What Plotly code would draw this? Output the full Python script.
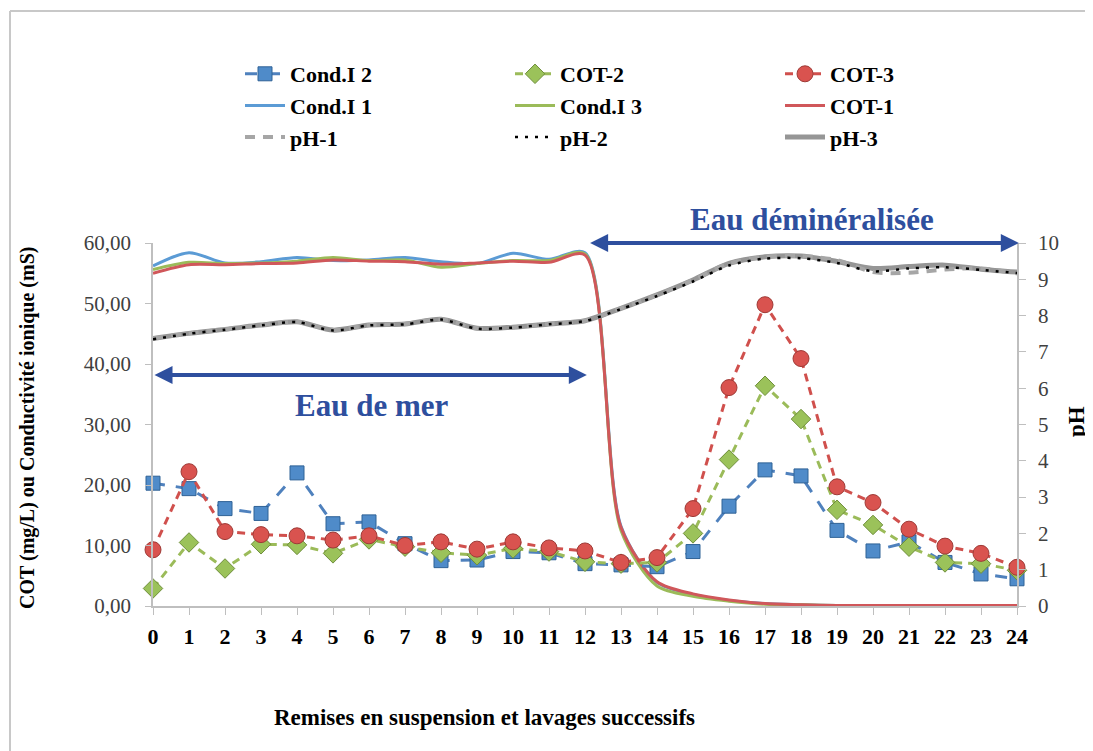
import plotly.graph_objects as go

x_vals = list(range(25))
x_labels = [str(i) for i in x_vals]

cond_i1 = [56.2, 58.4, 56.7, 56.9, 57.6, 57.1, 57.2, 57.6, 56.9, 56.6, 58.3, 57.3, 58.4,
           13.2, 3.9, 1.9, 0.9, 0.4, 0.2, 0.1, 0.1, 0.1, 0.1, 0.1, 0.1]
cond_i3 = [55.6, 56.8, 56.6, 56.7, 57.0, 57.6, 57.1, 57.2, 56.0, 56.6, 57.1, 57.1, 58.2,
           12.5, 3.3, 1.6, 0.8, 0.3, 0.2, 0.1, 0.1, 0.1, 0.1, 0.1, 0.1]
cot_1 = [55.0, 56.4, 56.4, 56.6, 56.7, 57.2, 57.0, 56.9, 56.5, 56.7, 57.0, 56.8, 58.0,
         13.0, 4.0, 2.0, 1.0, 0.4, 0.2, 0.1, 0.1, 0.1, 0.1, 0.1, 0.1]

cond_i2 = [20.3, 19.4, 16.1, 15.3, 22.0, 13.6, 13.9, 10.3, 7.5, 7.6, 9.0, 8.8, 7.0,
           6.8, 6.5, 9.0, 16.5, 22.5, 21.5, 12.5, 9.1, 10.6, 7.2, 5.3, 4.5]
cot_2 = [2.9, 10.5, 6.2, 10.2, 10.1, 8.7, 11.0, 9.8, 8.8, 8.4, 9.5, 9.0, 7.3,
         7.0, 7.2, 12.0, 24.2, 36.4, 30.9, 15.9, 13.4, 9.8, 7.2, 7.0, 5.9]
cot_3 = [9.3, 22.2, 12.3, 11.8, 11.6, 10.9, 11.6, 10.0, 10.6, 9.4, 10.6, 9.6, 9.1,
         7.2, 8.0, 16.1, 36.1, 49.8, 40.9, 19.7, 17.1, 12.7, 9.9, 8.7, 6.4]

ph_1 = [7.37, 7.51, 7.62, 7.74, 7.83, 7.60, 7.74, 7.77, 7.90, 7.65, 7.68, 7.77, 7.86,
        8.20, 8.57, 8.98, 9.44, 9.62, 9.64, 9.53, 9.20, 9.18, 9.27, 9.30, 9.16]
ph_2 = [7.35, 7.50, 7.61, 7.73, 7.82, 7.59, 7.73, 7.76, 7.89, 7.64, 7.67, 7.76, 7.85,
        8.18, 8.54, 8.94, 9.38, 9.57, 9.58, 9.45, 9.22, 9.30, 9.33, 9.26, 9.17]
ph_3 = [7.37, 7.51, 7.62, 7.74, 7.83, 7.60, 7.74, 7.77, 7.90, 7.65, 7.68, 7.77, 7.86,
        8.20, 8.57, 8.98, 9.44, 9.62, 9.64, 9.49, 9.30, 9.35, 9.39, 9.28, 9.20]

left_ticks = [0, 10, 20, 30, 40, 50, 60]
right_ticks = list(range(11))

SERIF = "Liberation Serif"
BLUE = "#4F81BD"
GREEN = "#9BBB59"
ARROW = "#2E4F9E"

# window-pixel helpers (plot area spans x 153..1017, y 243..606 in the window)
def px_x(p):
    return (p - 153) / 864

def px_y(p):
    return (606 - p) / 363

fig = go.Figure()

fig.add_trace(go.Scatter(x=x_vals, y=cond_i1, name="Cond.I 1", mode="lines",
                         line=dict(color="#5B9BD5", width=3, shape="spline", smoothing=0.8),
                         legendrank=4, cliponaxis=False))
fig.add_trace(go.Scatter(x=x_vals, y=cond_i3, name="Cond.I 3", mode="lines",
                         line=dict(color=GREEN, width=3, shape="spline", smoothing=0.8),
                         legendrank=5, cliponaxis=False))
fig.add_trace(go.Scatter(x=x_vals, y=cot_1, name="COT-1", mode="lines",
                         line=dict(color="#D0575A", width=3, shape="spline", smoothing=0.8),
                         legendrank=6, cliponaxis=False))

fig.add_trace(go.Scatter(x=x_vals, y=cond_i2, name="Cond.I 2", mode="lines+markers",
                         line=dict(color=BLUE, width=3, dash="12px,11px"),
                         marker=dict(symbol="square", size=14, color="#4F8BC9",
                                     line=dict(color="#2F6296", width=1)),
                         legendrank=1, cliponaxis=False))
fig.add_trace(go.Scatter(x=x_vals, y=cot_2, name="COT-2", mode="lines+markers",
                         line=dict(color=GREEN, width=3, dash="8px,6px"),
                         marker=dict(symbol="diamond", size=15, color="#9BC25A",
                                     line=dict(color="#6E8E3A", width=1)),
                         legendrank=2, cliponaxis=False))
fig.add_trace(go.Scatter(x=x_vals, y=cot_3, name="COT-3", mode="lines+markers",
                         line=dict(color="#D0504D", width=3, dash="8px,6px"),
                         marker=dict(symbol="circle", size=16, color="#D9534F",
                                     line=dict(color="#9E3A36", width=1)),
                         legendrank=3, cliponaxis=False))

fig.add_trace(go.Scatter(x=x_vals, y=ph_3, name="pH-3", mode="lines", yaxis="y2",
                         line=dict(color="#969696", width=5, shape="spline", smoothing=0.8),
                         legendrank=9, cliponaxis=False))
fig.add_trace(go.Scatter(x=x_vals, y=ph_1, name="pH-1", mode="lines", yaxis="y2",
                         line=dict(color="#A6A6A6", width=4, dash="10px,8px", shape="spline", smoothing=0.8),
                         legendrank=7, cliponaxis=False))
fig.add_trace(go.Scatter(x=x_vals, y=ph_2, name="pH-2", mode="lines", yaxis="y2",
                         line=dict(color="#000000", width=2.5, dash="3px,7px", shape="spline", smoothing=0.8),
                         legendrank=8, cliponaxis=False))

annotations = [
    dict(x=12.05, y=38.2, ax=0.0, ay=38.2, xref="x", yref="y", axref="x", ayref="y",
         text="", showarrow=True, arrowhead=2, arrowside="end+start", arrowwidth=4,
         arrowsize=0.9, arrowcolor=ARROW),
    dict(x=24.05, y=60, ax=12.1, ay=60, xref="x", yref="y", axref="x", ayref="y",
         text="", showarrow=True, arrowhead=2, arrowside="end+start", arrowwidth=4,
         arrowsize=0.9, arrowcolor=ARROW),
    dict(x=px_x(372), y=px_y(405), xref="paper", yref="paper", text="Eau de mer",
         showarrow=False, xanchor="center", yanchor="middle",
         font=dict(family=SERIF, size=31, color="#2E4F9E", weight="bold")),
    dict(x=px_x(812), y=px_y(220), xref="paper", yref="paper", text="Eau déminéralisée",
         showarrow=False, xanchor="center", yanchor="middle",
         font=dict(family=SERIF, size=31, color="#2E4F9E", weight="bold")),
    dict(x=px_x(27), y=px_y(428), xref="paper", yref="paper",
         text="COT (mg/L) ou Conductivité ionique (mS)", textangle=-90, showarrow=False,
         xanchor="center", yanchor="middle",
         font=dict(family=SERIF, size=20, color="#000000", weight="bold")),
    dict(x=px_x(1076), y=px_y(422), xref="paper", yref="paper",
         text="pH", textangle=-90, showarrow=False, xanchor="center", yanchor="middle",
         font=dict(family=SERIF, size=23, color="#000000", weight="bold")),
    dict(x=px_x(484), y=px_y(717), xref="paper", yref="paper",
         text="Remises en suspension et lavages successifs", showarrow=False,
         xanchor="center", yanchor="middle",
         font=dict(family=SERIF, size=23, color="#000000", weight="bold")),
]

shapes = [
    dict(type="line", xref="paper", yref="paper",
         x0=px_x(10), x1=px_x(1100), y0=px_y(11), y1=px_y(11),
         line=dict(color="#C8C8C8", width=2)),
    dict(type="line", xref="paper", yref="paper",
         x0=px_x(10), x1=px_x(10), y0=px_y(11), y1=px_y(760),
         line=dict(color="#C8C8C8", width=2)),
]

fig.update_layout(
    width=1085, height=743,
    margin=dict(l=145, r=76, t=235, b=145),
    paper_bgcolor="white", plot_bgcolor="white",
    separators=", ",
    font=dict(family=SERIF, color="#000000"),
    showlegend=True,
    legend=dict(orientation="h", x=px_x(240), y=px_y(53),
                xanchor="left", yanchor="top", traceorder="normal",
                entrywidth=215, entrywidthmode="pixels",
                font=dict(family=SERIF, size=22, color="#000000", weight="bold"),
                bgcolor="rgba(0,0,0,0)", itemwidth=40),
    xaxis=dict(range=[0, 24], tickmode="array", tickvals=x_vals, ticktext=x_labels,
               showgrid=False, zeroline=False, showline=True, linecolor="#BFBFBF",
               linewidth=1.5, ticks="outside", ticklen=7, tickcolor="#BFBFBF",
               tickfont=dict(family=SERIF, size=22, color="#000000", weight="bold"),
               ticklabelstandoff=3),
    yaxis=dict(range=[0, 60], tickmode="array", tickvals=left_ticks, tickformat=".2f",
               showgrid=False, zeroline=False, showline=True, linecolor="#BFBFBF",
               linewidth=1.5, ticks="outside", ticklen=6, tickcolor="#BFBFBF",
               tickfont=dict(family=SERIF, size=21, color="#404040"),
               ticklabelstandoff=10),
    yaxis2=dict(range=[0, 10], tickmode="array", tickvals=right_ticks, overlaying="y",
                side="right", showgrid=False, zeroline=False, showline=True,
                linecolor="#BFBFBF", linewidth=1.5, ticks="outside", ticklen=7,
                tickcolor="#BFBFBF", tickfont=dict(family=SERIF, size=21, color="#404040"),
                ticklabelstandoff=8),
    annotations=annotations,
    shapes=shapes,
)

fig.write_html("out.html")
